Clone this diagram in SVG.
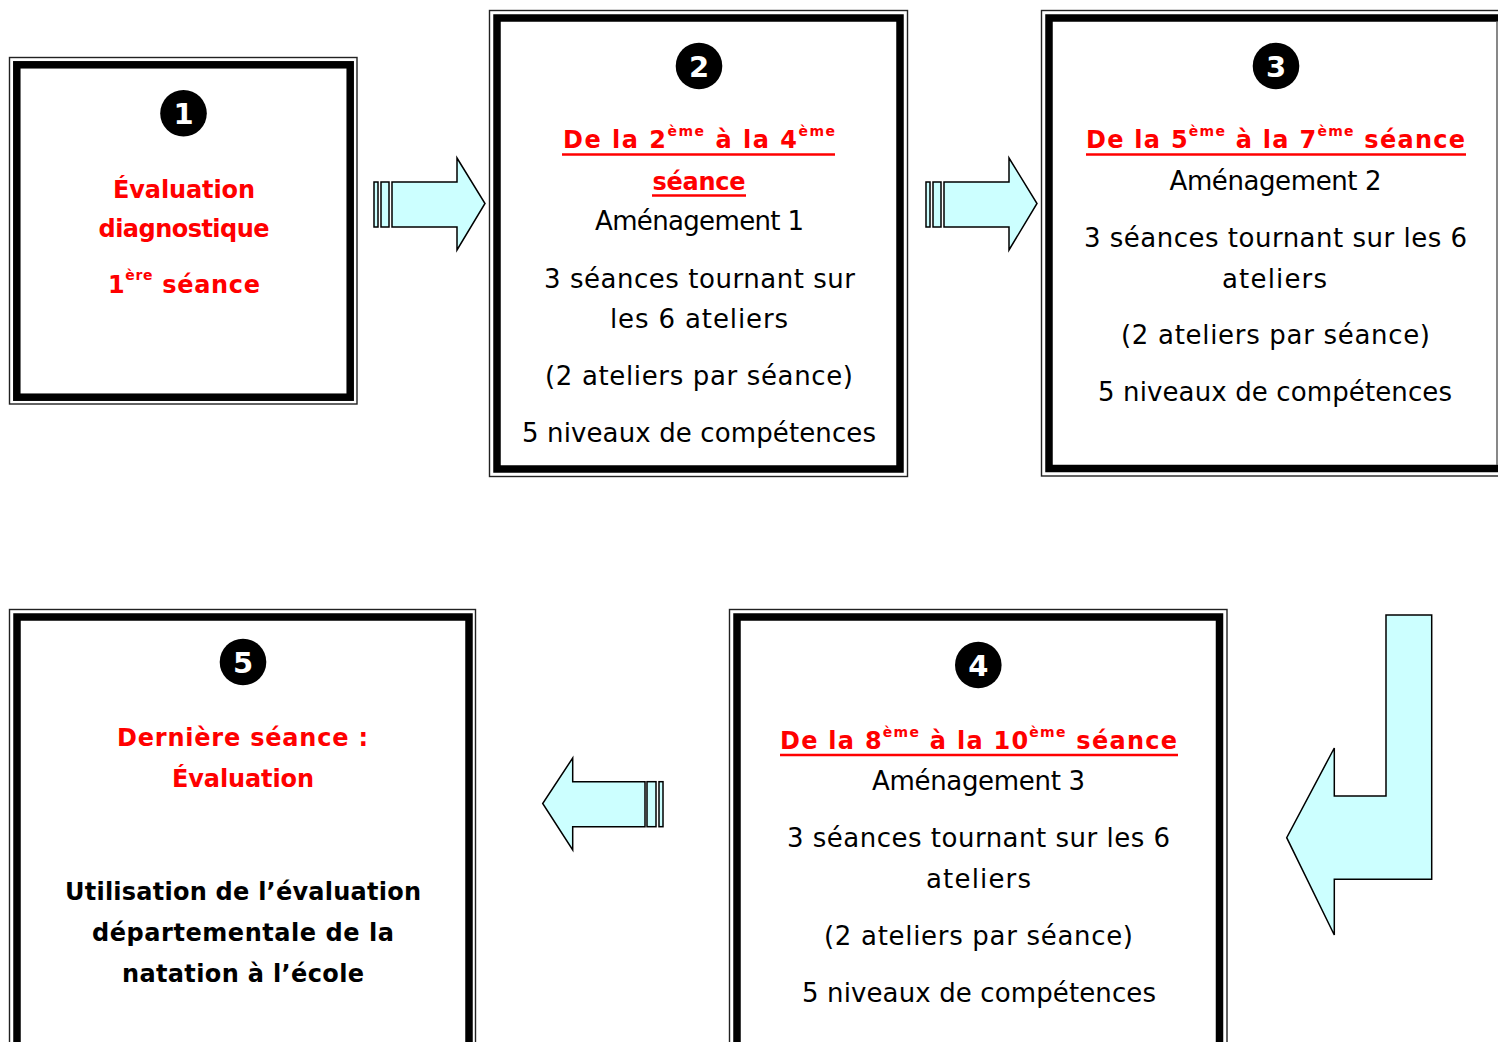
<svg xmlns="http://www.w3.org/2000/svg" width="1498" height="1042" viewBox="0 0 1498 1042">
<style>
.thin{fill:none;stroke:#222;stroke-width:1.4}
.thick{fill:none;stroke:#000;stroke-width:7.5}
.t{font-family:"DejaVu Sans","Liberation Sans",sans-serif;font-size:26px;fill:#000;text-anchor:middle}
.r{font-family:"DejaVu Sans","Liberation Sans",sans-serif;font-weight:bold;font-size:24px;fill:#f00;text-anchor:middle}
.b{font-family:"DejaVu Sans","Liberation Sans",sans-serif;font-weight:bold;font-size:24px;fill:#000;text-anchor:middle}
.sup{font-size:14px}
.ul{stroke:#f00;stroke-width:2.6}
.dot{fill:#000}
.num{font-family:"DejaVu Sans","Liberation Sans",sans-serif;font-weight:bold;font-size:29px;fill:#fff;text-anchor:middle}
.arrow{fill:#ccffff;stroke:#000;stroke-width:1.5;stroke-linejoin:miter}
</style>
<rect width="1498" height="1042" fill="#fff"/>

<g id="node1">
<rect class="thin" x="9.5" y="57.5" width="347.5" height="346.5"/>
<rect class="thick" x="16.8" y="64.8" width="333.4" height="332.4"/>
<circle class="dot" cx="183.5" cy="113.3" r="23.3"/>
<text class="num" x="183.5" y="123.8">1</text>
<text class="r" x="184" y="198" textLength="142">Évaluation</text>
<text class="r" x="184" y="237" textLength="171">diagnostique</text>
<text class="r" x="184" y="293" textLength="152">1<tspan class="sup" dy="-13">ère</tspan><tspan dy="13"> séance</tspan></text>
</g>

<g id="node2">
<rect class="thin" x="489.5" y="10.5" width="418" height="466"/>
<rect class="thick" x="497" y="18" width="403" height="451"/>
<circle class="dot" cx="699" cy="66" r="23.3"/>
<text class="num" x="699" y="76.5">2</text>
<text class="r" x="699" y="148" textLength="272">De la 2<tspan class="sup" dy="-12">ème</tspan><tspan dy="12"> à la 4</tspan><tspan class="sup" dy="-12">ème</tspan></text>
<line class="ul" x1="562" y1="154.5" x2="835" y2="154.5"/>
<text class="r" x="699" y="190" textLength="93">séance</text>
<line class="ul" x1="652" y1="195.5" x2="746" y2="195.5"/>
<text class="t" x="699.5" y="230" textLength="209">Aménagement 1</text>
<text class="t" x="699.5" y="288" textLength="311">3 séances tournant sur</text>
<text class="t" x="699" y="328" textLength="178">les 6 ateliers</text>
<text class="t" x="699" y="385" textLength="308">(2 ateliers par séance)</text>
<text class="t" x="699" y="442" textLength="354">5 niveaux de compétences</text>
</g>

<g id="node3">
<rect class="thin" x="1041.5" y="10.5" width="500" height="465.5"/>
<rect class="thick" x="1049" y="18" width="490" height="450.5"/>
<line x1="1497" y1="21" x2="1497" y2="465" stroke="#555" stroke-width="1.4"/>
<circle class="dot" cx="1276" cy="66" r="23.3"/>
<text class="num" x="1276" y="76.5">3</text>
<text class="r" x="1275.5" y="148" textLength="379">De la 5<tspan class="sup" dy="-12">ème</tspan><tspan dy="12"> à la 7</tspan><tspan class="sup" dy="-12">ème</tspan><tspan dy="12"> séance</tspan></text>
<line class="ul" x1="1086" y1="154.5" x2="1466" y2="154.5"/>
<text class="t" x="1275.5" y="190" textLength="212">Aménagement 2</text>
<text class="t" x="1275.5" y="247" textLength="383">3 séances tournant sur les 6</text>
<text class="t" x="1274.5" y="288" textLength="105">ateliers</text>
<text class="t" x="1275.5" y="344" textLength="309">(2 ateliers par séance)</text>
<text class="t" x="1275" y="401" textLength="354">5 niveaux de compétences</text>
</g>

<g id="node4">
<rect class="thin" x="729.5" y="609.5" width="497.5" height="500"/>
<rect class="thick" x="737" y="617" width="482.5" height="490"/>
<circle class="dot" cx="978.3" cy="665" r="23.3"/>
<text class="num" x="978.3" y="675.5">4</text>
<text class="r" x="978.5" y="748.5" textLength="397">De la 8<tspan class="sup" dy="-12">ème</tspan><tspan dy="12"> à la 10</tspan><tspan class="sup" dy="-12">ème</tspan><tspan dy="12"> séance</tspan></text>
<line class="ul" x1="780" y1="755" x2="1178" y2="755"/>
<text class="t" x="978.5" y="790" textLength="213">Aménagement 3</text>
<text class="t" x="978.5" y="847" textLength="383">3 séances tournant sur les 6</text>
<text class="t" x="978.5" y="888" textLength="105">ateliers</text>
<text class="t" x="978.5" y="945" textLength="309">(2 ateliers par séance)</text>
<text class="t" x="979" y="1002" textLength="354">5 niveaux de compétences</text>
</g>

<g id="node5">
<rect class="thin" x="9.5" y="609.5" width="466" height="500"/>
<rect class="thick" x="17" y="617" width="452" height="490"/>
<circle class="dot" cx="243" cy="662" r="23.3"/>
<text class="num" x="243" y="672.5">5</text>
<text class="r" x="242.5" y="746" textLength="251">Dernière séance :</text>
<text class="r" x="243" y="787" textLength="142">Évaluation</text>
<text class="b" x="243" y="900" textLength="356">Utilisation de l’évaluation</text>
<text class="b" x="243" y="941" textLength="302">départementale de la</text>
<text class="b" x="243" y="982" textLength="242">natation à l’école</text>
</g>

<g id="connectors">
<g id="arrow1">
<rect class="arrow" x="374" y="182" width="4" height="45"/>
<rect class="arrow" x="381" y="182" width="8" height="45"/>
<polygon class="arrow" points="392,182 457,182 457,158 485,203.5 457,250 457,227 392,227"/>
</g>
<g id="arrow2">
<rect class="arrow" x="926" y="182" width="4" height="45"/>
<rect class="arrow" x="933" y="182" width="8" height="45"/>
<polygon class="arrow" points="944,182 1009,182 1009,158 1037,203.5 1009,250 1009,227 944,227"/>
</g>
<polygon id="arrow3" class="arrow" points="1386,615 1431.7,615 1431.7,879.3 1334.3,879.3 1334.3,935 1286.7,837.7 1334.3,748 1334.3,796 1386,796"/>
<g id="arrow4">
<rect class="arrow" x="647" y="781.7" width="9" height="45"/>
<rect class="arrow" x="659" y="781.7" width="4" height="45"/>
<polygon class="arrow" points="645,781.7 572.7,781.7 572.7,758 542.7,803.5 572.7,850 572.7,826.7 645,826.7"/>
</g>
</g>
</svg>
